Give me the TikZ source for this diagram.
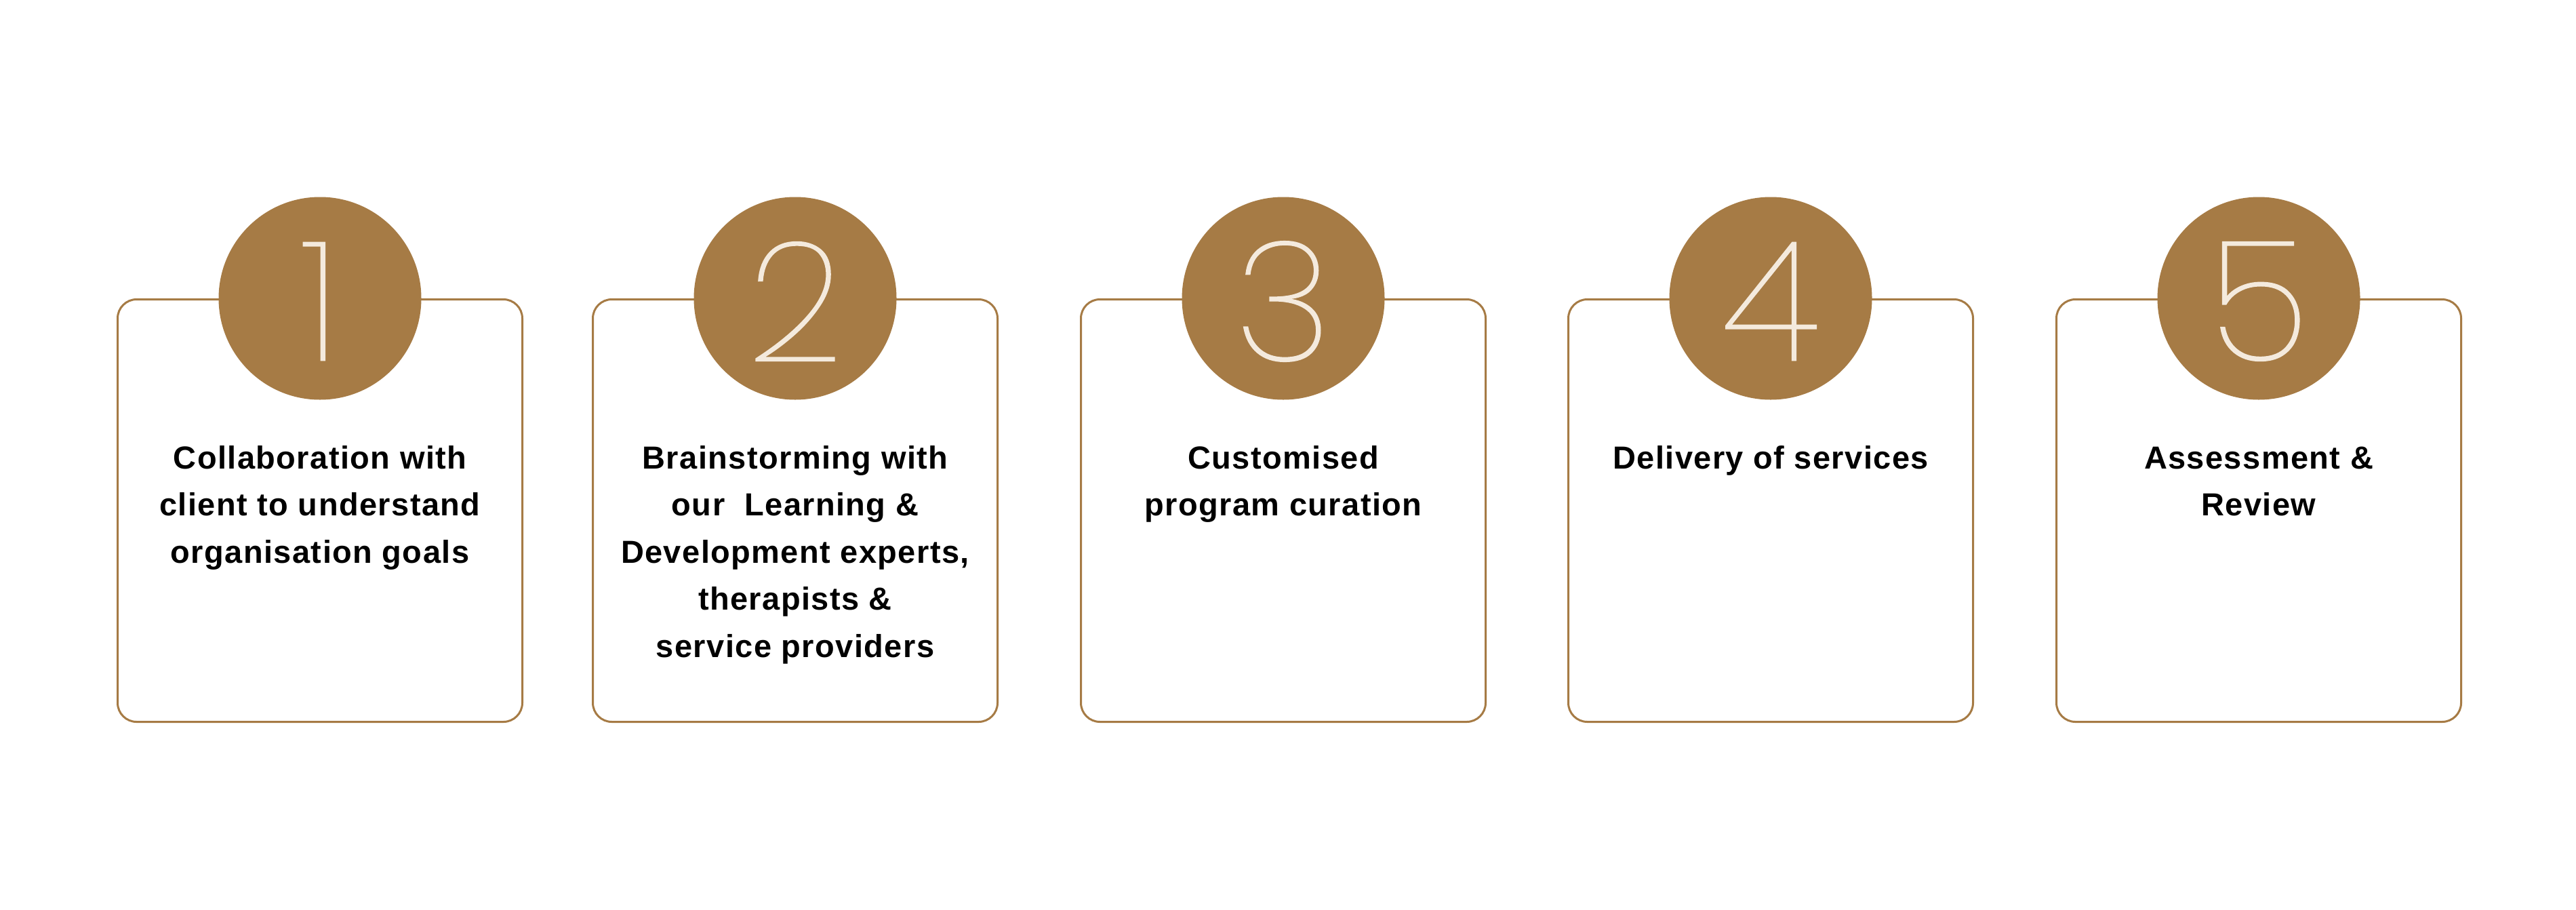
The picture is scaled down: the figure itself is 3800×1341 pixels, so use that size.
\documentclass[tikz,border=0pt]{standalone}
\usepackage{fontspec}
\setmainfont{Liberation Sans}
\newfontfamily\labelfont[LetterSpace=3]{Liberation Sans}
\newfontfamily\digitfont[FakeBold=1]{Poppins Thin}
\definecolor{stepbrown}{HTML}{A67B45}
\definecolor{stepcream}{HTML}{F4EADD}
\begin{document}
\begin{tikzpicture}[x=1pt,y=-1pt,
  card/.style={draw=stepbrown, line width=3pt, rounded corners=28pt, minimum width=597pt, minimum height=623pt, inner sep=0pt, anchor=north},
  badge/.style={circle, fill=stepbrown, minimum size=299pt, inner sep=0pt},
  numeral/.style={text=stepcream, font=\digitfont\fontsize{246}{246}\selectfont, inner sep=0pt},
  caption/.style={anchor=base, inner sep=0pt, font=\labelfont\bfseries\fontsize{47}{69.5}\selectfont}]
\useasboundingbox (0,0) rectangle (3800,1341);
\fill[white] (0,0) rectangle (3800,1341);
\foreach \i/\cx in {1/472,2/1173,3/1893,4/2612,5/3332}{
  \node[card] (card\i) at (\cx,440) {};
  \node[badge] (badge\i) at (card\i.north) {};
  \node[numeral] (num\i) at (\cx,444.5) {\i};
}
\node[caption] (cap1) at (472,691) {\begin{tabular}[t]{@{}c@{}}Collaboration with\\client to understand\\organisation goals\end{tabular}};
\node[caption] (cap2) at (1173,691) {\begin{tabular}[t]{@{}c@{}}Brainstorming with\\our~~Learning \&\\Development experts,\\therapists \&\\service providers\end{tabular}};
\node[caption] (cap3) at (1893,691) {\begin{tabular}[t]{@{}c@{}}Customised\\program curation\end{tabular}};
\node[caption] (cap4) at (2612,691) {\begin{tabular}[t]{@{}c@{}}Delivery of services\end{tabular}};
\node[caption] (cap5) at (3332,691) {\begin{tabular}[t]{@{}c@{}}Assessment \&\\Review\end{tabular}};
\end{tikzpicture}
\end{document}
